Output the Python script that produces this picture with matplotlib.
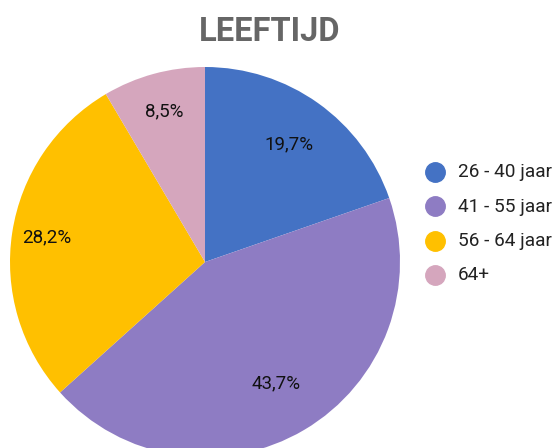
import matplotlib
matplotlib.use('Agg')
import matplotlib.pyplot as plt
from matplotlib.lines import Line2D
import numpy as np

labels = ['26 - 40 jaar', '41 - 55 jaar', '56 - 64 jaar', '64+']
shares = [19.7, 43.7, 28.2, 8.5]
colors = ['#4472C4', '#8E7CC3', '#FFC000', '#D5A6BD']

plt.rcParams['font.family'] = ['Roboto', 'DejaVu Sans']

W, H = 556, 448
fig = plt.figure(figsize=(W / 100, H / 100), dpi=100)
fig.patch.set_facecolor('white')

# pie centre (205, 262) px, radius 195 px
cx, cy, r = 205, 262, 195
ax = fig.add_axes([(cx - r) / W, (H - cy - r) / H, 2 * r / W, 2 * r / H])
wedges, _ = ax.pie(shares, colors=colors, startangle=90, counterclock=False,
                   radius=1, wedgeprops=dict(linewidth=0))
for w in wedges:
    w.set_clip_on(False)
ax.set_xlim(-1, 1)
ax.set_ylim(-1, 1)
ax.axis('off')

# percentage labels (distance from centre, as fraction of radius)
label_dist = [0.74, 0.72, 0.82, 0.80]
total = sum(shares)
start = 90.0
for val, d in zip(shares, label_dist):
    sweep = val / total * 360
    mid = np.radians(start - sweep / 2)
    ax.text(d * np.cos(mid), d * np.sin(mid), f"{val:.1f}%".replace('.', ','),
            ha='center', va='center', fontsize=13.5, color='#111111')
    start -= sweep

fig.text(270 / W, 1 - 32 / H, 'LEEFTIJD', ha='center', va='center',
         fontsize=23.5, fontweight='bold', color='#666666')

# legend
for i, (lab, col) in enumerate(zip(labels, colors)):
    y = 1 - (172 + i * 34.5) / H
    fig.add_artist(Line2D([435 / W], [y], marker='o', markersize=14,
                          color=col, linestyle='none'))
    fig.text(458 / W, y, lab, ha='left', va='center', fontsize=13.7,
             color='#222222')

plt.savefig('out.png', dpi=100, facecolor='white')
